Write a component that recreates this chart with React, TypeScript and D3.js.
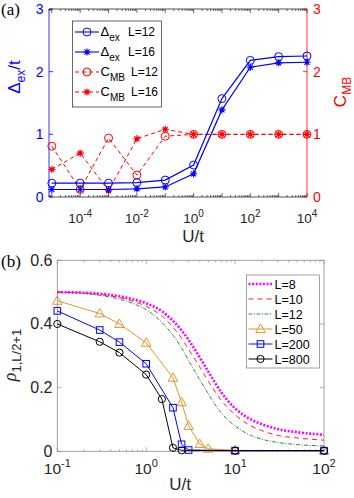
import React from "react";
import * as d3 from "d3";

// panel (a): excitation gap and C_MB vs U/t
const uA = [1e-5, 1e-4, 1e-3, 1e-2, 1e-1, 1, 10, 100, 1000, 10000];
const gapL12 = [0.22, 0.22, 0.22, 0.23, 0.27, 0.51, 1.57, 2.18, 2.24, 2.25];
const gapL16 = [0.12, 0.12, 0.12, 0.13, 0.16, 0.37, 1.39, 2.07, 2.14, 2.15];
const cmbL12 = [0.81, 0.12, 0.94, 0.35, 0.97, 1, 1, 1, 1, 1];
const cmbL16 = [0.44, 0.7, 0.1, 0.93, 1.08, 1, 1, 1, 1, 1];
const yTicksA = [0, 1, 2, 3];
const xExpA = [-4, -2, 0, 2, 4];

// panel (b): rho_{1,L/2+1} vs U/t
const uSmooth = [0.1, 0.2, 0.3, 0.5, 0.7, 1, 1.5, 2, 2.5, 3, 4, 5, 7, 10, 15, 20, 30, 50, 100];
const rhoL8 = [0.5, 0.498, 0.495, 0.487, 0.478, 0.465, 0.44, 0.41, 0.38, 0.35, 0.295, 0.25, 0.185, 0.135, 0.1, 0.085, 0.07, 0.06, 0.052];
const rhoL10 = [0.5, 0.497, 0.493, 0.483, 0.472, 0.455, 0.425, 0.39, 0.355, 0.32, 0.265, 0.22, 0.16, 0.115, 0.08, 0.065, 0.05, 0.042, 0.035];
const rhoL12 = [0.5, 0.496, 0.49, 0.478, 0.465, 0.445, 0.405, 0.365, 0.325, 0.285, 0.225, 0.18, 0.12, 0.08, 0.05, 0.038, 0.028, 0.021, 0.017];
const u50 = [0.1, 0.3, 0.5, 1, 2, 2.5, 3, 4, 5, 10, 100];
const rhoL50 = [0.473, 0.433, 0.4, 0.341, 0.231, 0.154, 0.08, 0.023, 0.008, 0.003, 0.002];
const u200 = [0.1, 0.3, 0.5, 1, 2, 2.5, 3, 10, 100];
const rhoL200 = [0.441, 0.381, 0.343, 0.275, 0.137, 0.022, 0.004, 0.002, 0.002];
const u800 = [0.1, 0.3, 0.5, 1, 1.5, 2, 2.5, 10, 100];
const rhoL800 = [0.4, 0.344, 0.31, 0.241, 0.164, 0.011, 0.003, 0.002, 0.002];
const yTicksB = [0, 0.2, 0.4, 0.6];
const xExpB = [-1, 0, 1, 2];

const SANS = "Liberation Sans, Arial, sans-serif";
const SERIF = "Liberation Serif, Times New Roman, serif";
const TXT = "#262626";

function logTicks(lo: number, hi: number) {
  const out: { v: number; major: boolean }[] = [];
  for (let e = Math.floor(Math.log10(lo)); e <= Math.ceil(Math.log10(hi)); e++) {
    for (let k = 1; k < 10; k++) {
      const v = k * Math.pow(10, e);
      if (v >= lo * 0.999 && v <= hi * 1.001) out.push({ v, major: k === 1 });
    }
  }
  return out;
}

const Star = ({ x, y, r, color }: any) => {
  const d = [0, 45, 90, 135]
    .map((a) => {
      const t = (a * Math.PI) / 180;
      const dx = r * Math.cos(t), dy = r * Math.sin(t);
      return `M${x - dx},${y - dy}L${x + dx},${y + dy}`;
    })
    .join("");
  return <path d={d} stroke={color} strokeWidth={1.1} fill="none" />;
};

const Ring = ({ x, y, r, color }: any) => (
  <circle cx={x} cy={y} r={r} fill="none" stroke={color} strokeWidth={1} />
);

const Tri = ({ x, y, r, color }: any) => (
  <path d={`M${x},${y - r}L${x + r * 0.95},${y + r * 0.7}L${x - r * 0.95},${y + r * 0.7}Z`} fill="none" stroke={color} strokeWidth={1} />
);

const Sq = ({ x, y, r, color }: any) => (
  <rect x={x - r} y={y - r} width={2 * r} height={2 * r} fill="none" stroke={color} strokeWidth={1} />
);

const PanelA = () => {
  const x = d3.scaleLog().domain([Math.pow(10, -5.1), 1e4]).range([49, 307]);
  const y = d3.scaleLinear().domain([0, 3]).range([197, 9]);
  const line = d3.line<[number, number]>().x((d) => x(d[0])).y((d) => y(d[1]));
  const pts = (v: number[]) => uA.map((u, i) => [u, v[i]] as [number, number]);
  const ticks = logTicks(x.domain()[0], x.domain()[1]);
  const blue = "#0000FF";
  const red = "#FF0000";
  const [x0, x1] = x.range();
  const [y0, y1] = y.range();
  const legend = [
    { sym: "Δ", sub: "ex", l: "L=12", color: blue, dash: "", m: "o", lx: 128 },
    { sym: "Δ", sub: "ex", l: "L=16", color: blue, dash: "", m: "*", lx: 128 },
    { sym: "C", sub: "MB", l: "L=12", color: red, dash: "4,3", m: "o", lx: 131 },
    { sym: "C", sub: "MB", l: "L=16", color: red, dash: "4,3", m: "*", lx: 131 },
  ];
  return (
    <g>
      <text x={1} y={15} fontFamily={SERIF} fontSize={17} fill="#000">(a)</text>
      {/* box */}
      <line x1={x0} x2={x1} y1={y1} y2={y1} stroke={TXT} strokeWidth={0.8} />
      <line x1={x0} x2={x1} y1={y0} y2={y0} stroke={TXT} strokeWidth={0.8} />
      {ticks.map((t, i) => (
        <g key={i}>
          <line x1={x(t.v)} x2={x(t.v)} y1={y0} y2={y0 - (t.major ? 4 : 2)} stroke={TXT} strokeWidth={0.7} />
          <line x1={x(t.v)} x2={x(t.v)} y1={y1} y2={y1 + (t.major ? 4 : 2)} stroke={TXT} strokeWidth={0.7} />
        </g>
      ))}
      <line x1={x0} x2={x0} y1={y0} y2={y1} stroke={blue} strokeWidth={0.8} />
      <line x1={x1} x2={x1} y1={y0} y2={y1} stroke={red} strokeWidth={0.8} />
      {yTicksA.map((t) => (
        <g key={t}>
          <line x1={x0} x2={x0 + 4} y1={y(t)} y2={y(t)} stroke={blue} strokeWidth={0.8} />
          <line x1={x1} x2={x1 - 4} y1={y(t)} y2={y(t)} stroke={red} strokeWidth={0.8} />
          <text x={43.5} y={y(t) + 5} textAnchor="end" fontFamily={SANS} fontSize={14} fill={blue}>{t}</text>
          <text x={313} y={y(t) + 5} fontFamily={SANS} fontSize={14} fill={red}>{t}</text>
        </g>
      ))}
      {xExpA.map((e) => (
        <text key={e} x={x(Math.pow(10, e))} y={223} textAnchor="middle" fontFamily={SANS} fontSize={13.5} fill={TXT}>
          10<tspan dy={-6} fontSize={10}>{e}</tspan>
        </text>
      ))}
      <text x={193} y={241.5} textAnchor="middle" fontFamily={SANS} fontSize={17} fill={TXT}>U/t</text>
      <text transform="translate(20,77) rotate(-90)" textAnchor="middle" fontFamily={SANS} fontSize={17} fill={blue}>
        Δ<tspan dy={5} fontSize={12}>ex</tspan><tspan dy={-5}>/t</tspan>
      </text>
      <text transform="translate(346,92) rotate(-90)" textAnchor="middle" fontFamily={SANS} fontSize={17} fill={red}>
        C<tspan dy={5} fontSize={12}>MB</tspan>
      </text>
      {/* C_MB curves */}
      <path d={line(pts(cmbL12)) || ""} fill="none" stroke={red} strokeWidth={1} strokeDasharray="4,3" />
      <path d={line(pts(cmbL16)) || ""} fill="none" stroke={red} strokeWidth={1} strokeDasharray="4,3" />
      {uA.map((u, i) => <Ring key={"c12" + i} x={x(u)} y={y(cmbL12[i])} r={4} color={red} />)}
      {uA.map((u, i) => (
        <g key={"c16" + i}>
          <circle cx={x(u)} cy={y(cmbL16[i])} r={2} fill={red} />
          <Star x={x(u)} y={y(cmbL16[i])} r={3.6} color={red} />
        </g>
      ))}
      {/* gap curves */}
      <path d={line(pts(gapL12)) || ""} fill="none" stroke={blue} strokeWidth={1.2} />
      <path d={line(pts(gapL16)) || ""} fill="none" stroke={blue} strokeWidth={1.2} />
      {uA.map((u, i) => <Ring key={"g12" + i} x={x(u)} y={y(gapL12[i])} r={4} color={blue} />)}
      {uA.map((u, i) => <Star key={"g16" + i} x={x(u)} y={y(gapL16[i])} r={3.6} color={blue} />)}
      {/* legend */}
      <rect x={72.5} y={21} width={89} height={86} fill="#fff" stroke={TXT} strokeWidth={0.7} />
      {legend.map((d, i) => {
        const ly = 32 + i * 20;
        return (
          <g key={i}>
            <line x1={75} x2={99} y1={ly} y2={ly} stroke={d.color} strokeWidth={1.1} strokeDasharray={d.dash} />
            {d.m === "o" ? (
              <Ring x={87} y={ly} r={4} color={d.color} />
            ) : (
              <g>
                {d.color === red && <circle cx={87} cy={ly} r={2} fill={red} />}
                <Star x={87} y={ly} r={3.6} color={d.color} />
              </g>
            )}
            <text x={100.5} y={ly + 4} fontFamily={SANS} fontSize={13} fill="#000">
              {d.sym}<tspan dy={5} fontSize={10}>{d.sub}</tspan>
            </text>
            <text x={d.lx} y={ly + 4} fontFamily={SANS} fontSize={12} fill="#000">{d.l}</text>
          </g>
        );
      })}
    </g>
  );
};

const PanelB = () => {
  const x = d3.scaleLog().domain([0.1, 100]).range([57.3, 324]);
  const y = d3.scaleLinear().domain([0, 0.6]).range([451.3, 260.3]);
  const smooth = d3.line<[number, number]>().x((d) => x(d[0])).y((d) => y(d[1])).curve(d3.curveMonotoneX);
  const line = d3.line<[number, number]>().x((d) => x(d[0])).y((d) => y(d[1]));
  const zip = (u: number[], v: number[]) => u.map((a, i) => [a, v[i]] as [number, number]);
  const ticks = logTicks(0.1, 100);
  const [x0, x1] = x.range();
  const [y0, y1] = y.range();
  const axis = "#8c8c8c";
  const orange = "#E8952B";
  const series = [
    { l: "L=8", color: "#FF00FF", dash: "2,1.6", w: 2.6, m: "" },
    { l: "L=10", color: "#FF2020", dash: "5,4", w: 1, m: "" },
    { l: "L=12", color: "#2E8B2E", dash: "4,1.5,1,1.5", w: 1, m: "" },
    { l: "L=50", color: orange, dash: "", w: 1, m: "t" },
    { l: "L=200", color: "#0000FF", dash: "", w: 1, m: "s" },
    { l: "L=800", color: "#000", dash: "", w: 1, m: "o" },
  ];
  const mark = (m: string, px: number, py: number, color: string, key: string) =>
    m === "t" ? <Tri key={key} x={px} y={py} r={5} color={color} /> :
    m === "s" ? <Sq key={key} x={px} y={py} r={3.3} color={color} /> :
    <Ring key={key} x={px} y={py} r={3.6} color={color} />;
  return (
    <g>
      <text x={1} y={267} fontFamily={SERIF} fontSize={17} fill="#000">(b)</text>
      <rect x={x0} y={y1} width={x1 - x0} height={y0 - y1} fill="none" stroke={axis} strokeWidth={0.8} />
      {ticks.map((t, i) => (
        <g key={i}>
          <line x1={x(t.v)} x2={x(t.v)} y1={y0} y2={y0 - (t.major ? 4 : 2)} stroke={axis} strokeWidth={0.7} />
          <line x1={x(t.v)} x2={x(t.v)} y1={y1} y2={y1 + (t.major ? 4 : 2)} stroke={axis} strokeWidth={0.7} />
        </g>
      ))}
      {yTicksB.map((t) => (
        <g key={t}>
          <line x1={x0} x2={x0 + 4} y1={y(t)} y2={y(t)} stroke={axis} strokeWidth={0.7} />
          <line x1={x1} x2={x1 - 4} y1={y(t)} y2={y(t)} stroke={axis} strokeWidth={0.7} />
          <text x={52.5} y={y(t) + 5.5} textAnchor="end" fontFamily={SANS} fontSize={16} fill={TXT}>{t === 0 ? "0" : t.toFixed(1)}</text>
        </g>
      ))}
      {xExpB.map((e) => (
        <text key={e} x={x(Math.pow(10, e))} y={474} textAnchor="middle" fontFamily={SANS} fontSize={15.5} fill={TXT}>
          10<tspan dy={-7} fontSize={11}>{e}</tspan>
        </text>
      ))}
      <text x={180} y={490} textAnchor="middle" fontFamily={SANS} fontSize={17} fill={TXT}>U/t</text>
      <text transform="translate(16,355) rotate(-90)" textAnchor="middle" fill={TXT}>
        <tspan fontFamily={SERIF} fontStyle="italic" fontSize={18}>ρ</tspan>
        <tspan dy={5} fontFamily={SANS} fontSize={13}>1,L/2+1</tspan>
      </text>
      {/* smooth curves */}
      <path d={smooth(zip(uSmooth, rhoL12)) || ""} fill="none" stroke={series[2].color} strokeWidth={1} strokeDasharray={series[2].dash} />
      <path d={smooth(zip(uSmooth, rhoL10)) || ""} fill="none" stroke={series[1].color} strokeWidth={1} strokeDasharray={series[1].dash} />
      <path d={smooth(zip(uSmooth, rhoL8)) || ""} fill="none" stroke={series[0].color} strokeWidth={2.6} strokeDasharray={series[0].dash} />
      {/* marker series */}
      <path d={line(zip(u50, rhoL50)) || ""} fill="none" stroke={orange} strokeWidth={1} />
      {u50.map((u, i) => mark("t", x(u), y(rhoL50[i]), orange, "t" + i))}
      <path d={line(zip(u200, rhoL200)) || ""} fill="none" stroke="#0000FF" strokeWidth={1} />
      {u200.map((u, i) => mark("s", x(u), y(rhoL200[i]), "#0000FF", "s" + i))}
      <path d={line(zip(u800, rhoL800)) || ""} fill="none" stroke="#000" strokeWidth={1} />
      {u800.map((u, i) => mark("o", x(u), y(rhoL800[i]), "#000", "o" + i))}
      {/* legend */}
      <rect x={246.5} y={275} width={73} height={93} fill="#fff" stroke={axis} strokeWidth={0.8} />
      {series.map((s, i) => {
        const ly = 284 + i * 15;
        return (
          <g key={s.l}>
            <line x1={248.5} x2={272.5} y1={ly} y2={ly} stroke={s.color} strokeWidth={s.w} strokeDasharray={s.dash} />
            {s.m && mark(s.m, 260.5, ly, s.color, "lg" + i)}
            <text x={274.5} y={ly + 4.5} fontFamily={SANS} fontSize={12.5} fill="#000">{s.l}</text>
          </g>
        );
      })}
    </g>
  );
};

export default function App() {
  return (
    <svg width={354} height={498} style={{ position: "absolute", left: 0, top: 0, background: "#fff" }}>
      <PanelA />
      <PanelB />
    </svg>
  );
}
